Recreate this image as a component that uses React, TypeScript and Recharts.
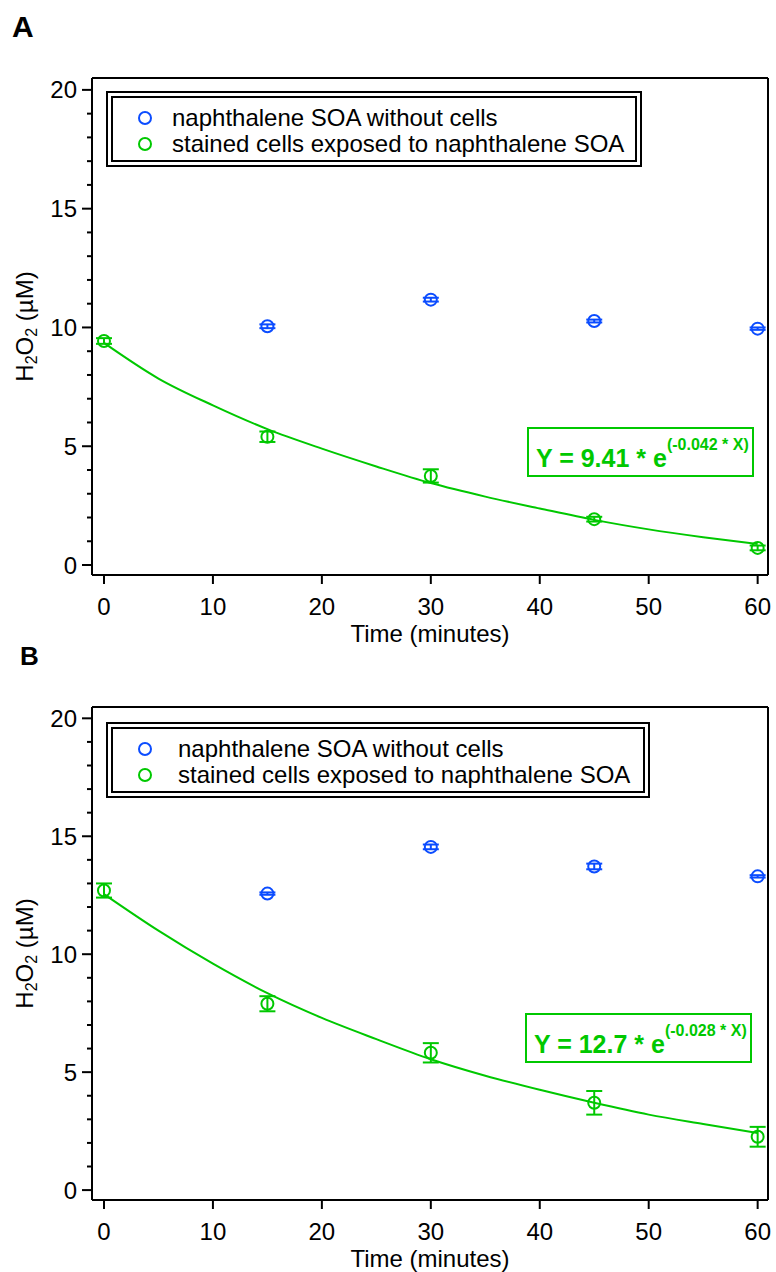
import React from 'react'
import {
  ComposedChart,
  ErrorBar,
  Label,
  Legend,
  Line,
  ReferenceLine,
  Scatter,
  XAxis,
  YAxis,
} from 'recharts'

const FONT = 'Arial, "Liberation Sans", sans-serif'
const BLUE = '#0b4cff'
const GREEN = '#00c800'
const FS = 24

// categories / ticks
const legendLabels = [
  'naphthalene SOA without cells',
  'stained cells exposed to naphthalene SOA',
]
const xTicks = [0, 10, 20, 30, 40, 50, 60]
const yTicks = [0, 1, 2, 3, 4, 5, 6, 7, 8, 9, 10, 11, 12, 13, 14, 15, 16, 17, 18, 19, 20]
const greenTimes = [0, 15, 30, 45, 60]
const blueTimes = [15, 30, 45, 60]
const fitTimes = [0, 5, 10, 15, 20, 25, 30, 35, 40, 45, 50, 55, 60]

// panel A values
const blueA = [10.05, 11.17, 10.27, 9.95]
const blueErrA = [0.08, 0.08, 0.06, 0.05]
const greenA = [9.43, 5.4, 3.75, 1.93, 0.72]
const greenErrA = [0.12, 0.22, 0.28, 0.1, 0.1]
const fitA = [9.35, 7.85, 6.72, 5.72, 4.9, 4.15, 3.45, 2.88, 2.38, 1.9, 1.5, 1.17, 0.88]

// panel B values
const blueB = [12.57, 14.55, 13.72, 13.3]
const blueErrB = [0.05, 0.1, 0.12, 0.05]
const greenB = [12.7, 7.9, 5.82, 3.7, 2.26]
const greenErrB = [0.3, 0.32, 0.41, 0.5, 0.42]
const fitB = [12.55, 11.0, 9.6, 8.35, 7.3, 6.4, 5.55, 4.85, 4.25, 3.7, 3.2, 2.8, 2.42]

const X_MAX = 60.95
const Y_MIN = -0.42

const XTick = ({ x, y, payload }: any) => (
  <g>
    <line x1={x} x2={x} y1={y} y2={y + 9} stroke="#000" strokeWidth={2} />
    <text x={x} y={y + 40} textAnchor="middle" fontSize={FS} fill="#000">
      {payload.value}
    </text>
  </g>
)

const YTick = ({ x, y, payload }: any) => {
  const major = payload.value % 5 === 0
  return (
    <g>
      <line x1={x - (major ? 10 : 5)} x2={x} y1={y} y2={y} stroke="#000" strokeWidth={2} />
      {major && (
        <text x={x - 15} y={y + 8.5} textAnchor="end" fontSize={FS} fill="#000">
          {payload.value}
        </text>
      )}
    </g>
  )
}

const Ring = (color: string) => (props: any) => (
  <circle cx={props.cx} cy={props.cy} r={6} fill="none" stroke={color} strokeWidth={2} />
)

const renderLegend = (width: number, textLeft: number) => () => (
  <div
    style={{
      boxSizing: 'border-box',
      width,
      border: '7px double #000',
      padding: '7px 0 3px 0',
      background: '#fff',
      fontFamily: FONT,
    }}
  >
    {legendLabels.map((label, i) => (
      <div
        key={label}
        style={{
          position: 'relative',
          height: 26,
          lineHeight: '26px',
          fontSize: FS,
          color: '#000',
          paddingLeft: textLeft,
          whiteSpace: 'nowrap',
        }}
      >
        <svg width={16} height={16} style={{ position: 'absolute', left: 24, top: 5 }}>
          <circle cx={8} cy={8} r={6} fill="none" stroke={i === 0 ? BLUE : GREEN} strokeWidth={2} />
        </svg>
        {label}
      </div>
    ))}
  </div>
)

interface PanelProps {
  height: number
  top: number
  plotBottom: number
  yMax: number
  legendTop: number
  legendWidth: number
  textLeft: number
  blue: number[]
  blueErr: number[]
  green: number[]
  greenErr: number[]
  fit: number[]
}

const Panel = (p: PanelProps) => {
  const blueData = blueTimes.map((t, i) => ({ x: t, y: p.blue[i], err: p.blueErr[i] }))
  const greenData = greenTimes.map((t, i) => ({ x: t, y: p.green[i], err: p.greenErr[i] }))
  const fitData = fitTimes.map((t, i) => ({ x: t, y: p.fit[i] }))
  const axisHeight = 67
  const cy = (p.top + p.plotBottom) / 2

  const renderYLabel = () => (
    <text
      transform={`translate(33,${cy}) rotate(-90)`}
      textAnchor="middle"
      fontSize={FS}
      fill="#000"
    >
      H<tspan fontSize={16} dy={4}>2</tspan>
      <tspan dy={-4}>O</tspan>
      <tspan fontSize={16} dy={4}>2</tspan>
      <tspan dy={-4}> (µM)</tspan>
    </text>
  )

  return (
    <ComposedChart
      width={776}
      height={p.height}
      margin={{ top: p.top, right: 8, bottom: p.height - p.plotBottom - axisHeight, left: 30 }}
    >
      <XAxis
        dataKey="x"
        type="number"
        domain={[-1.1, X_MAX]}
        allowDataOverflow
        ticks={xTicks}
        interval={0}
        tick={<XTick />}
        tickLine={false}
        tickSize={0}
        tickMargin={0}
        height={axisHeight}
        axisLine={{ stroke: '#000', strokeWidth: 2 }}
      >
        <Label value="Time (minutes)" position="insideBottom" offset={0} fontSize={FS} fill="#000" />
      </XAxis>
      <YAxis
        dataKey="y"
        type="number"
        domain={[Y_MIN, p.yMax]}
        allowDataOverflow
        ticks={yTicks}
        interval={0}
        tick={<YTick />}
        tickLine={false}
        tickSize={0}
        tickMargin={0}
        width={62}
        axisLine={{ stroke: '#000', strokeWidth: 2 }}
      >
        <Label content={renderYLabel} />
      </YAxis>
      <ReferenceLine x={X_MAX} stroke="#000" strokeWidth={2} />
      <ReferenceLine y={p.yMax} stroke="#000" strokeWidth={2} />
      <Line
        data={fitData}
        dataKey="y"
        type="monotone"
        stroke={GREEN}
        strokeWidth={2}
        dot={false}
        activeDot={false}
        isAnimationActive={false}
        legendType="none"
      />
      <Scatter data={blueData} dataKey="y" shape={Ring(BLUE)} isAnimationActive={false}>
        <ErrorBar dataKey="err" direction="y" width={8} stroke={BLUE} strokeWidth={2} />
      </Scatter>
      <Scatter data={greenData} dataKey="y" shape={Ring(GREEN)} isAnimationActive={false}>
        <ErrorBar dataKey="err" direction="y" width={8} stroke={GREEN} strokeWidth={2} />
      </Scatter>
      <Legend
        layout="vertical"
        verticalAlign="middle"
        align="center"
        wrapperStyle={{ left: 106, top: p.legendTop, width: p.legendWidth }}
        content={renderLegend(p.legendWidth, p.textLeft)}
      />
    </ComposedChart>
  )
}

const Equation = ({ x, y, w, h, main, sup }: any) => (
  <g>
    <rect x={x} y={y} width={w} height={h} fill="#fff" stroke={GREEN} strokeWidth={2} />
    <text x={x + 8} y={y + 39} fontSize={25} fontWeight="bold" fill={GREEN}>
      {main}
      <tspan dy={-17} fontSize={16}>
        {sup}
      </tspan>
    </text>
  </g>
)

export default function App() {
  return (
    <div
      style={{
        position: 'absolute',
        left: 0,
        top: 0,
        width: 776,
        height: 1272,
        background: '#fff',
        fontFamily: FONT,
        overflow: 'hidden',
      }}
    >
      <div style={{ position: 'absolute', left: 0, top: 0 }}>
        <Panel
          height={648}
          top={78}
          plotBottom={575}
          yMax={20.5}
          legendTop={91}
          legendWidth={536}
          textLeft={59}
          blue={blueA}
          blueErr={blueErrA}
          green={greenA}
          greenErr={greenErrA}
          fit={fitA}
        />
      </div>
      <div style={{ position: 'absolute', left: 0, top: 636 }}>
        <Panel
          height={636}
          top={71}
          plotBottom={564}
          yMax={20.48}
          legendTop={86}
          legendWidth={544}
          textLeft={65}
          blue={blueB}
          blueErr={blueErrB}
          green={greenB}
          greenErr={greenErrB}
          fit={fitB}
        />
      </div>
      <svg
        width={776}
        height={1272}
        style={{ position: 'absolute', left: 0, top: 0, pointerEvents: 'none' }}
      >
        <text x={12} y={37} fontSize={30} fontWeight="bold" fill="#000">
          A
        </text>
        <text x={20} y={665} fontSize={26} fontWeight="bold" fill="#000">
          B
        </text>
        <Equation x={528} y={428} w={225} h={48} main="Y = 9.41 * e" sup="(-0.042 * X)" />
        <Equation x={526} y={1014} w={225} h={48} main="Y = 12.7 * e" sup="(-0.028 * X)" />
      </svg>
    </div>
  )
}
